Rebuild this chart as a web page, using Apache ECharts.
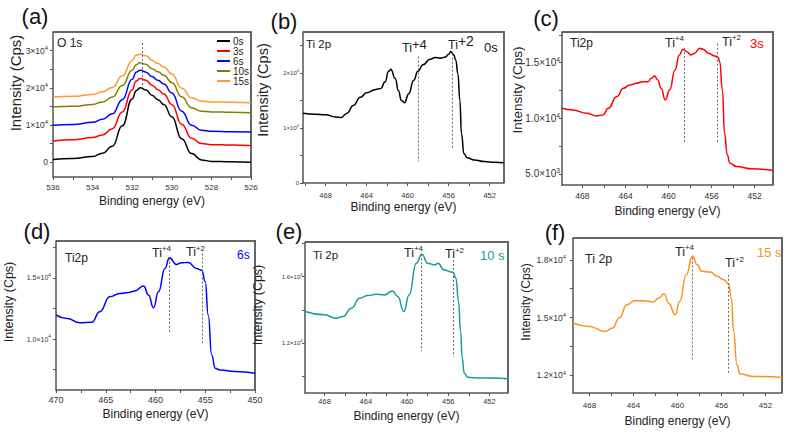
<!DOCTYPE html>
<html><head><meta charset="utf-8">
<script src="https://cdn.jsdelivr.net/npm/echarts@6/dist/echarts.min.js"></script>
<style>html,body{margin:0;padding:0;background:#fff}#c{width:787px;height:433px}</style>
</head><body><div id="c"></div>
<script>
// ---------------- DATA ----------------
const o1sEnergy = [536, 535, 534, 533.5, 533, 532.5, 532, 531.8, 531.6, 531.3, 531, 530.7, 530.4, 530, 529.5, 529, 528.5, 528, 527, 526];
const o1s0s  = [700, 1000, 1500, 2400, 4300, 9800, 17000, 19200, 20000, 19400, 18000, 16800, 15500, 12200, 6300, 2300, 600, 200, 100, 0];
const o1s3s  = [5700, 6000, 6600, 7300, 9000, 13500, 19500, 21800, 22500, 22000, 20700, 19500, 18300, 15500, 10200, 6400, 5000, 4700, 4600, 4500];
const o1s6s  = [9900, 10100, 10700, 11500, 13000, 16800, 22300, 24200, 24700, 24200, 23000, 22000, 21000, 18600, 13700, 9900, 8600, 8300, 8200, 8100];
const o1s10s = [14800, 15000, 15500, 16200, 17500, 20600, 24700, 26200, 26700, 26300, 25100, 24300, 23400, 21400, 17600, 14600, 13700, 13500, 13400, 13300];
const o1s15s = [17500, 17700, 18200, 18900, 20100, 23200, 27300, 28800, 29000, 28600, 27400, 26500, 25600, 23700, 19900, 17300, 16400, 16200, 16100, 16000];
const o1sNames = ['0s', '3s', '6s', '10s', '15s'];
const o1sMarker = [[531.5, 32000, 20000]];           // [energy, top, bottom]

const ti0s = [[470.2,12700],[469,12500],[468,12400],[467,12000],[466.5,11900],[465.9,12700],[465.3,14100],[464.6,15600],[464,16400],[463.1,17000],[462.6,17200],[462.2,18400],[461.85,20300],[461.65,20700],[461.2,19000],[460.9,16800],[460.6,15000],[460.3,14600],[459.9,16200],[459.4,18700],[459.0,20300],[458.5,21500],[457.8,22500],[457.3,22800],[456.8,22700],[456.3,22900],[456.0,23400],[455.8,23900],[455.5,23300],[455.3,22300],[455.1,19900],[454.9,15000],[454.75,9000],[454.5,5300],[454.2,4600],[453.5,4200],[452.5,3900],[451.5,3750],[450.6,3700]];
const ti3s = [[469.9,10900],[468.9,10750],[467.6,10450],[466.7,10210],[466.1,10300],[465.6,10900],[464.8,11950],[464.2,12690],[463.6,12990],[463.0,13140],[462.4,13290],[461.9,13290],[461.6,13590],[461.3,13800],[461.0,13440],[460.7,12690],[460.3,11650],[459.9,12540],[459.4,14340],[459.0,15690],[458.65,16200],[458.35,15990],[457.9,15690],[457.6,15840],[457.1,16290],[456.8,16200],[456.3,15840],[455.7,15600],[455.4,15480],[455.25,15090],[455.0,12540],[454.8,8650],[454.55,6710],[454.3,5960],[453.7,5660],[452.2,5450],[450.3,5300]];
const ti6s = [[470,11960],[468.9,11680],[467.6,11330],[466.4,11360],[465.6,12230],[464.6,13450],[463.6,13720],[462.7,13800],[462.1,13910],[461.2,14320],[460.7,13590],[460.2,12550],[459.7,13860],[459.05,15760],[458.6,16630],[457.9,16090],[457.4,16220],[456.7,16250],[455.9,15760],[455.35,15620],[455.0,14670],[454.7,11960],[454.35,8700],[454.0,7610],[453.5,7470],[452,7350],[450,7200]];
const ti10s = [[469.9,13900],[468,13700],[466.9,13500],[466.2,13600],[465.4,14100],[464.6,14700],[463.8,14860],[463.0,14940],[462.2,14900],[461.4,15140],[460.9,14800],[460.3,13900],[459.8,14900],[459.1,16800],[458.55,17340],[458.0,16800],[457.3,16700],[457.0,16800],[456.4,16400],[455.55,16260],[455.25,15900],[455.0,14500],[454.8,12700],[454.65,11100],[454.45,10200],[454.1,9940],[453,9900],[451.7,9900],[450.2,9860]];
const ti15s = [[469.5,14720],[468,14540],[466.6,14280],[465.9,14460],[465.3,14980],[464.6,15670],[463.9,15880],[463.1,15880],[462.2,15810],[461.75,16010],[461.2,16220],[460.8,15750],[460.2,15150],[459.8,15840],[459.2,17220],[458.65,18200],[458.2,17740],[457.8,17400],[457.0,17360],[456.4,17140],[455.8,16970],[455.35,16740],[455.1,16010],[454.9,14280],[454.6,12550],[454.3,12070],[453.1,11950],[450.5,11900]];

const ti0sMarkers  = [[459.0, 23000, 3900], [455.66, 23500, 6200]];
const ti3sMarkers  = [[458.5, 16300, 7750], [455.5, 16700, 7700]];
const ti6sMarkers  = [[458.6, 16630, 10460], [455.3, 16980, 9650]];
const ti10sMarkers = [[458.6, 17340, 11500], [455.55, 17000, 11200]];
const ti15sMarkers = [[458.64, 18120, 12730], [455.35, 17220, 12030]];

// tick positions / labels
const o1sEnergyTicks = [526, 528, 530, 532, 534, 536];
const o1sEnergyMinor = [527, 529, 531, 533, 535];
const tiEnergyTicks = [452, 456, 460, 464, 468];
const tiEnergyMinor = [450, 454, 458, 462, 466, 470];
const ti6sEnergyTicks = [450, 455, 460, 465, 470];
const ti6sEnergyMinor = [452.5, 457.5, 462.5, 467.5];
const o1sIntTicks = [0, 10000, 20000, 30000];
const o1sIntLabels = ['0', '1×10^4', '2×10^4', '3×10^4'];
const ti0sIntTicks = [0, 10000, 20000];
const ti0sIntLabels = ['0', '1×10^4', '2×10^4'];
const ti3sIntTicks = [5000, 10000, 15000];
const ti3sIntLabels = ['5.0×10^3', '1.0×10^4', '1.5×10^4'];
const ti6sIntTicks = [10000, 15000];
const ti6sIntLabels = ['1.0×10^4', '1.5×10^4'];
const ti10sIntTicks = [12000, 16000];
const ti10sIntLabels = ['1.2×10^4', '1.6×10^4'];
const ti15sIntTicks = [12000, 15000, 18000];
const ti15sIntLabels = ['1.2×10^4', '1.5×10^4', '1.8×10^4'];

// ---------------- LAYOUT / STYLE ----------------
const FF = '"Liberation Sans", Arial, Helvetica, sans-serif';
const panels = [
  {grid:[53,32,198,145], xr:[526,536], yr:[-4000,35000], xt:o1sEnergyTicks, xm:o1sEnergyMinor, yt:o1sIntTicks, yl:o1sIntLabels, ym:[5000,15000,25000], xFont:8, yFont:8.5, xMargin:6.5, yMargin:5, nameGap:18},
  {grid:[303,32,201,151], xr:[450.6,470.2], yr:[0,27450], xt:tiEnergyTicks, xm:tiEnergyMinor, yt:ti0sIntTicks, yl:ti0sIntLabels, ym:[5000,15000,25000], xFont:7.5, yFont:6, xMargin:8, yMargin:4, nameGap:18},
  {grid:[562,32,211,153], xr:[450.3,469.9], yr:[4000,17750], xt:tiEnergyTicks, xm:tiEnergyMinor, yt:ti3sIntTicks, yl:ti3sIntLabels, ym:[7500,12500,17500], xFont:8.5, yFont:10, xMargin:6, yMargin:2, nameGap:20},
  {grid:[56,241,199,149], xr:[450,470], yr:[5840,18000], xt:ti6sEnergyTicks, xm:ti6sEnergyMinor, yt:ti6sIntTicks, yl:ti6sIntLabels, ym:[7500,12500,17500], xFont:9, yFont:7, xMargin:5, yMargin:5, nameGap:18},
  {grid:[305,242,203,151], xr:[450.2,469.9], yr:[9000,18080], xt:tiEnergyTicks, xm:tiEnergyMinor, yt:ti10sIntTicks, yl:ti10sIntLabels, ym:[10000,14000,18000], xFont:7.5, yFont:6, xMargin:4.7, yMargin:2.5, nameGap:16.5},
  {grid:[573,238,209,155], xr:[450.5,469.5], yr:[11090,19130], xt:tiEnergyTicks, xm:tiEnergyMinor, yt:ti15sIntTicks, yl:ti15sIntLabels, ym:[13500,16500], xFont:8, yFont:8.5, xMargin:8.4, yMargin:7, nameGap:21.5}
];
const o1sColors = ['#000000', '#ff0000', '#0000ff', '#808000', '#ff9a33'];
const tiColors = ['#000000', '#ff0000', '#0000ff', '#179c9c', '#ff9020'];
const AX = '#555';

function supRich(lbl) {
  const i = lbl.indexOf('^');
  return i < 0 ? '{b|' + lbl + '}' : '{b|' + lbl.slice(0, i) + '}{s|' + lbl.slice(i + 1) + '}';
}
const inR = (r) => (v) => v >= r[0] - 1e-9 && v <= r[1] + 1e-9;

const grids = [], xAxes = [], yAxes = [], gfx = [];
panels.forEach((P, i) => {
  grids.push({left:P.grid[0], top:P.grid[1], width:P.grid[2], height:P.grid[3]});
  // plot frame (top & right edges; left & bottom are the axes)
  gfx.push({type:'polyline', shape:{points:[[P.grid[0], P.grid[1]], [P.grid[0] + P.grid[2], P.grid[1]], [P.grid[0] + P.grid[2], P.grid[1] + P.grid[3]]]},
            style:{fill:null, stroke:'#666666', lineWidth:2}});
  const xt = P.xt.filter(inR(P.xr));
  const xall = P.xt.concat(P.xm).filter(inR(P.xr));
  xAxes.push({
    type:'value', gridIndex:i, min:P.xr[0], max:P.xr[1], inverse:true, position:'bottom',
    axisLine:{show:true, onZero:false, lineStyle:{color:AX, width:1.5}},
    axisTick:{show:true, length:3, customValues:xall, lineStyle:{color:AX}},
    axisLabel:{show:true, customValues:xt, fontSize:P.xFont, color:'#333', margin:P.xMargin, fontFamily:FF, formatter:(v) => String(v)},
    splitLine:{show:false},
    name:'Binding energy (eV)', nameLocation:'middle', nameGap:P.nameGap,
    nameTextStyle:{fontSize:12, color:'#222', fontFamily:FF}
  });
  const yt = P.yt.filter(inR(P.yr));
  const yall = P.yt.concat(P.ym).filter(inR(P.yr));
  yAxes.push({
    type:'value', gridIndex:i, min:P.yr[0], max:P.yr[1], position:'left',
    axisLine:{show:true, onZero:false, lineStyle:{color:AX, width:1.5}},
    axisTick:{show:true, length:3, customValues:yall, lineStyle:{color:AX}},
    axisLabel:{show:true, customValues:yt, margin:P.yMargin, color:'#333',
      formatter:(v) => { const k = P.yt.findIndex(t => Math.abs(t - v) < 1e-6); return supRich(k >= 0 ? P.yl[k] : String(v)); },
      rich:{b:{fontSize:P.yFont, lineHeight:P.yFont + 3, fontFamily:FF, color:'#333'},
            s:{fontSize:P.yFont * 0.68, lineHeight:P.yFont * 0.8, verticalAlign:'top', fontFamily:FF, color:'#333'}}},
    splitLine:{show:false}
  });
});

function markLines(markers) {
  return {
    silent:true, symbol:'none', animation:false,
    lineStyle:{type:[2, 2], color:'#666', width:1},
    label:{show:false},
    data: markers.map(m => [{coord:[m[0], m[1]]}, {coord:[m[0], m[2]]}])
  };
}
function lineSeries(name, data, color, panel, markers) {
  const s = {
    type:'line', name, data, xAxisIndex:panel, yAxisIndex:panel,
    showSymbol:false, symbol:'none', smooth:0.5, smoothMonotone:'x',
    lineStyle:{color, width:1.5}, itemStyle:{color}, animation:false, silent:true
  };
  if (markers) s.markLine = markLines(markers);
  return s;
}

const series = [];
const o1sAll = [o1s0s, o1s3s, o1s6s, o1s10s, o1s15s];
o1sAll.forEach((arr, k) => {
  series.push(lineSeries(o1sNames[k], o1sEnergy.map((e, j) => [e, arr[j]]), o1sColors[k], 0, k === 0 ? o1sMarker : null));
});
[[ti0s, ti0sMarkers], [ti3s, ti3sMarkers], [ti6s, ti6sMarkers], [ti10s, ti10sMarkers], [ti15s, ti15sMarkers]].forEach((d, k) => {
  series.push(lineSeries('Ti ' + k, d[0], tiColors[k], k + 1, d[1]));
});

// ---------------- TEXT ----------------
function txt(text, x, y, size, color, align, extra) {
  gfx.push(Object.assign({type:'text', x, y, silent:true,
    style:{text, fontSize:size, fontFamily:FF, fill:color || '#222', align:align || 'left', verticalAlign:'middle'}}, extra || {}));
}
function ytitle(x, y, size) { txt('Intensity (Cps)', x, y, size, '#222', 'center', {rotation:Math.PI / 2}); }
function tiLabel(sup, x, y, size, supSize, raise) {
  const rich = raise
    ? {m:{fontSize:size, lineHeight:12 + 2 * raise, fontFamily:FF, fill:'#222'},
       s:{fontSize:supSize, lineHeight:12, verticalAlign:'top', fontFamily:FF, fill:'#222'}}
    : {m:{fontSize:size, lineHeight:16, fontFamily:FF, fill:'#222'},
       s:{fontSize:supSize, lineHeight:9, verticalAlign:'top', fontFamily:FF, fill:'#222'}};
  gfx.push({type:'text', x, y, silent:true,
    style:{text:'{m|Ti}{s|' + sup + '}', rich, align:'left', verticalAlign:'middle', fontFamily:FF}});
}
// panel letters
txt('(a)', 35, 16, 22, '#111', 'center');
txt('(b)', 284, 21, 22, '#111', 'center');
txt('(c)', 546, 18, 22, '#111', 'center');
txt('(d)', 37, 231, 22, '#111', 'center');
txt('(e)', 289, 231, 22, '#111', 'center');
txt('(f)', 555, 232, 22, '#111', 'center');
// y titles
ytitle(15, 83, 15);
ytitle(263, 90, 14.5);
ytitle(517, 90, 13.5);
ytitle(9, 302, 12.5);
ytitle(258, 305, 12.5);
ytitle(526, 302, 12);
// in-plot notes
txt('O 1s', 57, 42.5, 12);
txt('Ti 2p', 306, 43.5, 11.5);
txt('0s', 484, 47, 13);
tiLabel('+4', 402, 48, 12.5, 13, 4);
tiLabel('+2', 448, 45, 12.5, 14, 5);
txt('Ti2p', 570, 43, 12);
txt('3s', 750, 43, 13, '#ff0000');
tiLabel('+4', 665, 42.5, 12.5, 8);
tiLabel('+2', 722, 41.5, 12.5, 8);
txt('Ti2p', 65, 257.5, 12);
txt('6s', 237, 255, 12, '#0000ff');
tiLabel('+4', 152, 252.5, 12.5, 8);
tiLabel('+2', 186, 252, 12.5, 8);
txt('Ti 2p', 313, 255, 11.5);
txt('10 s', 480, 255, 13, '#179c9c');
tiLabel('+4', 404, 252.5, 12.5, 8);
tiLabel('+2', 445, 254, 12.5, 8);
txt('Ti 2p', 585, 258.5, 12.5);
txt('15 s', 757, 252.5, 13, '#ff9020');
tiLabel('+4', 675, 251.5, 12.5, 8);
tiLabel('+2', 725, 263, 12.5, 8);

const chart = echarts.init(document.getElementById('c'), null, {renderer:'svg', width:787, height:433});
chart.setOption({
  animation:false,
  textStyle:{fontFamily:FF},
  legend:{
    data:o1sNames, orient:'vertical', left:212, top:31, itemWidth:13, itemHeight:2, itemGap:0,
    icon:'rect', selectedMode:false, textStyle:{fontSize:10, color:'#222', fontFamily:FF, padding:[0,0,0,-2]}
  },
  grid:grids, xAxis:xAxes, yAxis:yAxes, series, graphic:gfx
});
</script>
</body></html>
